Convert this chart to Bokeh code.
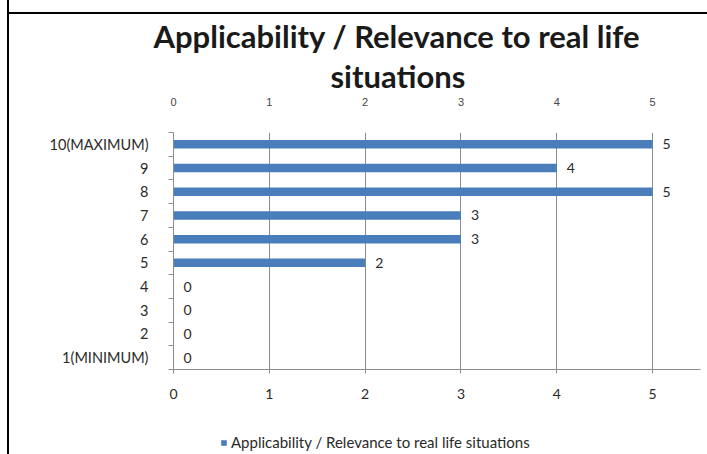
from bokeh.plotting import figure
from bokeh.models import (FixedTicker, Legend, LegendItem, Div, ColumnDataSource,
                          Title, LinearAxis)
from bokeh.layouts import column
from bokeh.embed import file_html
from bokeh.resources import INLINE
from bokeh.core.properties import value

categories = ["1(MINIMUM)", "2", "3", "4", "5", "6", "7", "8", "9", "10(MAXIMUM)"]
values = [0, 0, 0, 0, 2, 3, 3, 5, 4, 5]
x_ticks = [0, 1, 2, 3, 4, 5]
series_name = "Applicability / Relevance to real life situations"
title_lines = ["Applicability / Relevance to real life", "situations"]

FONT = "Lato"
BLUE = "#4a7ebb"
GRID = "#8c8c8c"
TXT = "#2a2a2a"

pos = list(range(1, len(categories) + 1))
src = ColumnDataSource(dict(y=pos, v=values, lab=[str(v) for v in values]))

p = figure(width=698, height=396, output_backend="svg", toolbar_location=None,
           x_range=(0, 5.5), y_range=(0.5, len(categories) + 0.5),
           min_border_left=164, min_border_right=7, min_border_top=108,
           min_border_bottom=41, outline_line_color=None, title=None)

# invisible spacer between the frame and the two-line title
spacer = LinearAxis(ticker=FixedTicker(ticks=[]), axis_line_color=None,
                    major_tick_line_color=None, minor_tick_line_color=None,
                    major_tick_in=0, major_tick_out=27, minor_tick_in=0, minor_tick_out=0,
                    major_label_standoff=0)
p.add_layout(spacer, "above")

# line 2 is added first (closest to the frame), then line 1 above it
for line, off in [(title_lines[1], 157), (title_lines[0], -20)]:
    t = Title(text=line, align="left", offset=off, text_font=FONT,
              text_font_size="31px", text_font_style="bold", text_color="#1a1a1a",
              standoff=0)
    p.add_layout(t, "above")

r = p.hbar(y="y", right="v", left=0, height=0.36, source=src,
           fill_color=BLUE, line_color=None)
p.text(x="v", y="y", text="lab", source=src, x_offset=10,
       text_align="left", text_baseline="middle",
       text_font=value(FONT), text_font_size="14px", text_color=TXT)

# x axis
p.xaxis[0].ticker = FixedTicker(ticks=x_ticks)
p.below[0].axis_line_color = GRID
p.below[0].major_tick_line_color = GRID
p.below[0].major_tick_in = 4
p.below[0].major_tick_out = 4
p.below[0].minor_tick_line_color = None
p.below[0].major_label_standoff = 15
p.below[0].major_label_text_font = FONT
p.below[0].major_label_text_font_size = "14px"
p.below[0].major_label_text_color = TXT

# y axis
p.yaxis.ticker = FixedTicker(ticks=pos, minor_ticks=[k + 0.5 for k in range(0, len(categories) + 1)])
p.yaxis.major_label_overrides = {i: c for i, c in zip(pos, categories)}
p.yaxis.axis_line_color = GRID
p.yaxis.major_tick_line_color = None
p.yaxis.major_tick_in = 0
p.yaxis.major_tick_out = 0
p.yaxis.minor_tick_line_color = GRID
p.yaxis.minor_tick_in = 0
p.yaxis.minor_tick_out = 5
p.yaxis.major_label_standoff = 20
p.yaxis.major_label_text_font = FONT
p.yaxis.major_label_text_font_size = "14.5px"
p.yaxis.major_label_text_color = TXT

p.xgrid.grid_line_color = GRID
p.ygrid.grid_line_color = None

# legend strip below the chart (pixel-sized ranges, frame aligned with the chart)
p2 = figure(width=698, height=44, output_backend="svg", toolbar_location=None,
            x_range=(0, 698), y_range=(0, 44), x_axis_type=None, y_axis_type=None,
            min_border=0, outline_line_color=None)
p2.grid.visible = False
lr = p2.hbar(y=[0], right=[0], left=[0], height=1, fill_color=BLUE, line_color=None)
legend = Legend(items=[LegendItem(label=series_name, renderers=[lr])],
                location=(47, 3), orientation="horizontal",
                glyph_width=7, glyph_height=7, label_height=16,
                label_text_font=FONT, label_text_font_size="15px",
                label_text_color=TXT, padding=0, margin=0,
                border_line_color=None, background_fill_alpha=0,
                label_standoff=4)
p2.add_layout(legend, "center")

top = Div(width=698, height=14, margin=0,
          styles={"border-bottom": "2px solid black", "box-sizing": "border-box"})
layout = column(top, p, p2, margin=0, spacing=0,
                styles={"margin-left": "7px", "border-left": "2px solid black"})

open("out.html", "w").write(file_html(layout, INLINE))
